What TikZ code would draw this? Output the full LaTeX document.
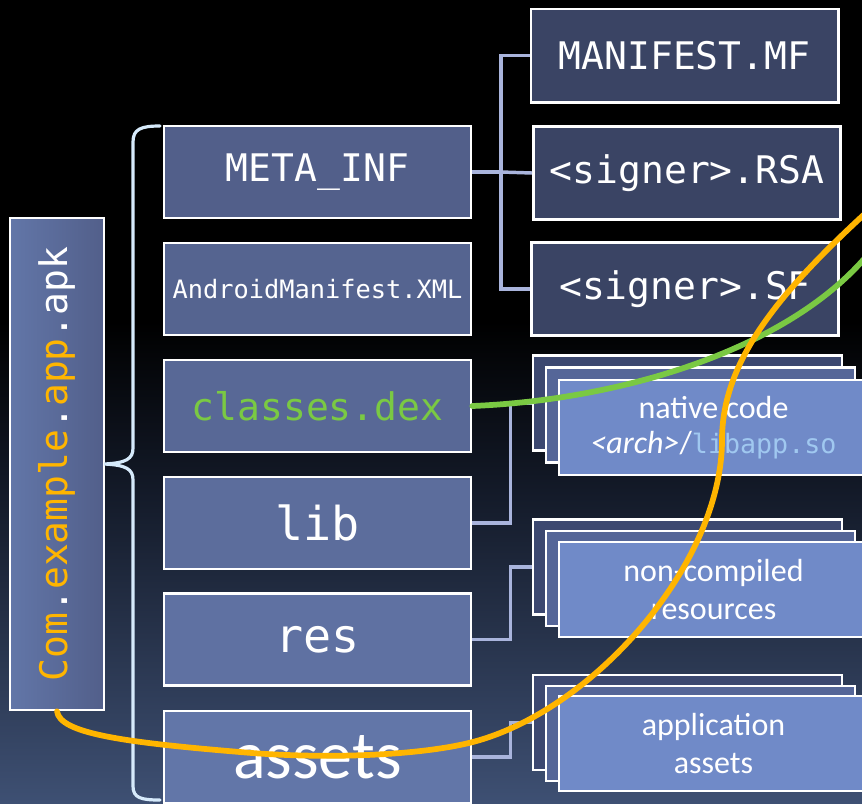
\documentclass[tikz,border=0pt]{standalone}
\usepackage{fontspec}
\setmainfont{Carlito}
\newfontfamily\monofont{DejaVu Sans Mono}

\definecolor{bgB}{RGB}{62,80,115}
\definecolor{bgM}{RGB}{20,27,42}
\definecolor{colTop}{RGB}{82,95,138}
\definecolor{colBot}{RGB}{98,118,168}
\definecolor{sigfill}{RGB}{58,68,100}
\definecolor{stackA}{RGB}{60,72,112}
\definecolor{stackB}{RGB}{85,102,152}
\definecolor{stackC}{RGB}{112,138,200}
\definecolor{connc}{RGB}{169,180,220}
\definecolor{bracec}{RGB}{214,234,251}
\definecolor{dexgreen}{RGB}{122,201,67}
\definecolor{apkorange}{RGB}{255,181,0}
\definecolor{libblue}{RGB}{160,200,240}

\pgfdeclareverticalshading{bgshade}{100bp}{color(0bp)=(bgB); color(25bp)=(bgB); color(44bp)=(bgM); color(55bp)=(black); color(100bp)=(black)}

\begin{document}
\begin{tikzpicture}[x=0.75pt,y=-0.75pt,
  box/.style={draw=white, line width=2pt, inner sep=2pt, text=white, align=center},
  colbox/.style={box, minimum width=230.25pt, minimum height=69pt,
    font=\monofont\fontsize{28.5}{34}\selectfont},
  bigmono/.style={font=\monofont\fontsize{35}{40}\selectfont},
  sigbox/.style={box, fill=sigfill, minimum width=230.5pt, minimum height=70pt,
    font=\monofont\fontsize{28.5}{34}\selectfont},
  stackbox/.style={box, minimum width=231.75pt, minimum height=71.25pt},
  stacktext/.style={stackbox, fill=stackC,
    font=\fontsize{24}{28.5}\selectfont},
  conn/.style={draw=connc, line width=2.6pt},
  bracepath/.style={draw=bracec, line width=2.4pt, line cap=round},
  curve/.style={line width=4.3pt, line cap=round}
]
\useasboundingbox (0,0) rectangle (862,803);
\clip (0,0) rectangle (862,803);

% background
\shade[shading=bgshade] (0,0) rectangle (862,803);

% archive root, written vertically
\node[box, rotate=90, left color=colBot, right color=colTop,
      minimum width=369pt, minimum height=70.5pt,
      font=\monofont\fontsize{28.5}{34}\selectfont] (apk) at (57,464)
  {{\color{apkorange}Com}.{\color{apkorange}example}.{\color{apkorange}app}.apk};

% brace gathering the archive entries
\draw[bracepath] (160,126) .. controls (141,126) and (133,129) .. (133,142)
  -- (133,448) .. controls (133,459) and (126,463) .. (104,464)
  .. controls (126,465) and (133,469) .. (133,480)
  -- (133,786) .. controls (133,798) and (141,800) .. (160,800);

% archive entries
\node[colbox, fill=colTop] (meta) at (317.5,172) {META\_INF};
\node[colbox, fill=colBot!20!colTop, font=\monofont\fontsize{19}{23}\selectfont] (manifest) at (317.5,289) {AndroidManifest.XML};
\node[colbox, fill=colBot!40!colTop, text=dexgreen] (dex) at (317.5,406) {classes.dex};
\node[colbox, fill=colBot!60!colTop, bigmono] (lib) at (317.5,523) {lib};
\node[colbox, fill=colBot!80!colTop, bigmono] (res) at (317.5,639.5) {res};
\node[colbox, fill=colBot, font=\fontsize{51}{56}\selectfont] (assets) at (317.5,757) {assets};

% signature files
\node[sigbox] (mf) at (684.5,55.5) {MANIFEST.MF};
\node[sigbox] (rsa) at (687,173) {<signer>.RSA};
\node[sigbox] (sf) at (685,289) {<signer>.SF};

% tree lines from META_INF
\coordinate (jm) at (501,172);
\draw[conn] (meta.east) -- (jm);
\draw[conn] (jm) |- (mf.west);
\draw[conn] (jm) -- (rsa.west);
\draw[conn] (jm) |- (sf.west);

% stacked content groups
\node[stackbox, fill=stackA] (natA) at (687.5,403) {};
\node[stackbox, fill=stackB] (natB) at (700.5,415) {};
\node[stacktext] (natC) at (713.5,427.5)
  {native code\\[-2pt]\textit{<arch>}/{\monofont\fontsize{20}{24}\selectfont\color{libblue}libapp.so}};

\node[stackbox, fill=stackA] (resA) at (687.5,567) {};
\node[stackbox, fill=stackB] (resB) at (700.5,578.5) {};
\node[stacktext] (resC) at (713.5,589.5) {non-compiled\\resources};

\node[stackbox, fill=stackA] (astA) at (687.5,722.5) {};
\node[stackbox, fill=stackB] (astB) at (700.5,733.5) {};
\node[stacktext] (astC) at (713.5,743.5) {application\\assets};

% elbow connectors into the stacks
\draw[conn] (lib.east) -- ++(38,0) |- (natA.west);
\draw[conn] (res.east) -- ++(38,0) |- (resA.west);
\draw[conn] (assets.east) -- ++(38,0) |- (astA.west);

% highlight curves
\draw[curve, draw=dexgreen] (dex.east) .. controls (620,400) and (790,350) .. (870,252);
\draw[curve, draw=apkorange] (apk.west) .. controls (60,733) and (120,742) .. (240,752)
  .. controls (330,760) and (430,755) .. (480,740)
  .. controls (600,704) and (722,560) .. (722,440)
  .. controls (722,360) and (780,290) .. (880,200);
\end{tikzpicture}
\end{document}
